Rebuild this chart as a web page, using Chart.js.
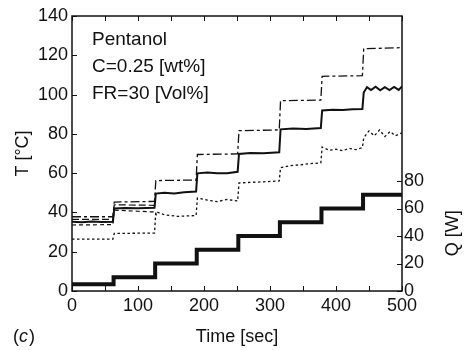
<!DOCTYPE html>
<html>
<head>
<meta charset="utf-8">
<script src="https://cdn.jsdelivr.net/npm/chart.js@4.4.1/dist/chart.umd.min.js"></script>
<style>
  html, body { margin: 0; padding: 0; background: #fff; }
  #chart { display: block; }
</style>
</head>
<body>
<canvas id="chart" width="466" height="350"></canvas>
<script>
// ── Data ──────────────────────────────────────────────
const qTime  = [0, 63, 126, 189, 252, 315, 378, 441, 500];
const qPower = [5, 10, 20, 30, 40, 50, 60, 70, 70];

const solidTime = [0, 15, 30, 45, 62, 64, 80, 100, 125, 127, 140, 155, 170, 188,
  190, 205, 220, 235, 251, 253, 270, 290, 314, 316, 335, 355, 377,
  379, 395, 410, 425, 440, 442, 447, 453, 460, 467, 474, 481, 488, 495, 500];
const solidTemp = [35.3, 35.0, 35.4, 35.1, 35.3, 42.0, 42.2, 42.1, 42.4, 49.6, 50.0, 49.7, 50.3, 50.6,
  59.9, 60.3, 60.0, 59.9, 60.7, 69.8, 70.2, 70.1, 70.6, 82.3, 82.7, 82.5, 83.0,
  91.9, 92.3, 92.1, 92.5, 92.6, 101.0, 103.8, 102.3, 104.0, 102.2, 103.8, 102.3, 103.9, 102.4, 104.2];

const dashDotTime = [0, 62, 64, 125, 127, 188, 190, 251, 253, 314, 316, 377, 379, 440, 442, 500];
const dashDotTemp = [37.8, 37.8, 45.3, 45.6, 56.2, 56.5, 69.5, 69.8, 81.6, 82.0, 96.9, 97.2, 109.3, 109.6, 123.3, 123.9];

const longDashTime = [0, 62, 64, 126];
const longDashTemp = [36.5, 36.5, 43.9, 43.6];

const shortDashTime = [0, 62, 64, 100, 126, 128];
const shortDashTemp = [33.6, 33.8, 41.2, 40.6, 40.2, 38.5];

const dotTime = [0, 62, 64, 125, 127, 140, 160, 188, 190, 205, 220, 235, 251,
  253, 270, 290, 314, 316, 330, 345, 360, 377, 379, 390, 400, 410, 420, 430, 440,
  442, 450, 458, 466, 474, 482, 490, 500];
const dotTemp = [26.4, 26.4, 29.3, 29.5, 40.4, 38.8, 38.0, 38.4, 47.3, 46.3, 45.5, 46.6, 45.8,
  55.0, 55.3, 55.6, 56.0, 62.8, 63.8, 64.2, 64.8, 65.2, 73.3, 71.6, 72.2, 71.4, 72.6, 72.0, 73.0,
  78.0, 81.5, 79.0, 82.0, 78.6, 81.2, 79.0, 80.5];

const xTicks = [0, 100, 200, 300, 400, 500];
const tTicks = [0, 20, 40, 60, 80, 100, 120, 140];
const qTicks = [0, 20, 40, 60, 80];

const pts = (xs, ys) => xs.map((x, i) => ({ x, y: ys[i] }));

const INK = '#111';
const FONT = "'Liberation Sans', Arial, sans-serif";

// frame, inward tick marks and free-standing texts
const framePlugin = {
  id: 'frame',
  afterDatasetsDraw(chart) {
    const { ctx, chartArea: a, scales } = chart;
    ctx.save();
    ctx.strokeStyle = INK;
    ctx.lineWidth = 1.5;
    ctx.strokeRect(a.left, a.top, a.right - a.left, a.bottom - a.top);

    ctx.lineWidth = 1;
    ctx.beginPath();
    scales.x.ticks.forEach(t => {
      const px = Math.round(scales.x.getPixelForValue(t.value)) + 0.5;
      ctx.moveTo(px, a.bottom); ctx.lineTo(px, a.bottom - 5);
      ctx.moveTo(px, a.top); ctx.lineTo(px, a.top + 5);
    });
    scales.y.ticks.forEach(t => {
      const py = Math.round(scales.y.getPixelForValue(t.value)) + 0.5;
      ctx.moveTo(a.left, py); ctx.lineTo(a.left + 5, py);
    });
    scales.y1.ticks.forEach(t => {
      const py = Math.round(scales.y1.getPixelForValue(t.value)) + 0.5;
      ctx.moveTo(a.right, py); ctx.lineTo(a.right - 5, py);
    });
    ctx.stroke();

    ctx.fillStyle = INK;
    ctx.font = '19px ' + FONT;
    ctx.textAlign = 'left';
    ctx.textBaseline = 'alphabetic';
    ctx.fillText('Pentanol', 92, 45);
    ctx.fillText('C=0.25 [wt%]', 92, 72);
    ctx.fillText('FR=30 [Vol%]', 92, 99);

    // (c) panel label
    ctx.font = '18px ' + FONT;
    let x = 13;
    ctx.fillText('(', x, 342); x += ctx.measureText('(').width;
    ctx.font = 'italic 18px ' + FONT;
    ctx.fillText('c', x, 342); x += ctx.measureText('c').width + 1;
    ctx.font = '18px ' + FONT;
    ctx.fillText(')', x, 342);

    // right axis title, centred on the labelled part of the Q scale
    ctx.save();
    ctx.translate(453, scales.y1.getPixelForValue(42));
    ctx.rotate(-Math.PI / 2);
    ctx.textAlign = 'center';
    ctx.textBaseline = 'middle';
    ctx.fillText('Q [W]', 0, 0);
    ctx.restore();
    ctx.restore();
  }
};

const lineSet = (label, data, width, dash, axis) => ({
  label, data,
  borderColor: INK,
  borderWidth: width,
  borderDash: dash,
  pointRadius: 0,
  tension: 0,
  fill: false,
  yAxisID: axis || 'y'
});

const tickFont = { family: FONT, size: 18 };

new Chart(document.getElementById('chart'), {
  type: 'line',
  data: {
    datasets: [
      lineSet('T dotted', pts(dotTime, dotTemp), 1.3, [2.5, 2.5]),
      lineSet('T short dash', pts(shortDashTime, shortDashTemp), 1.2, [4, 3]),
      lineSet('T long dash', pts(longDashTime, longDashTemp), 1.2, [7, 3]),
      lineSet('T dash-dot', pts(dashDotTime, dashDotTemp), 1.3, [9, 3, 3, 3]),
      lineSet('T solid', pts(solidTime, solidTemp), 2, []),
      Object.assign(lineSet('Q', pts(qTime, qPower), 4, [], 'y1'), { stepped: 'before' })
    ]
  },
  options: {
    responsive: false,
    animation: false,
    layout: { padding: { top: 16, left: 0, right: 0, bottom: 0 } },
    plugins: { legend: { display: false }, tooltip: { enabled: false } },
    scales: {
      x: {
        type: 'linear',
        min: 0, max: 500,
        afterFit: s => { s.height = 59; },
        border: { display: false },
        grid: { display: false, drawTicks: false },
        ticks: {
          stepSize: 50,
          autoSkip: false,
          maxRotation: 0,
          padding: 4,
          color: INK,
          font: tickFont,
          callback: v => xTicks.includes(v) ? String(v) : ''
        },
        title: {
          display: true,
          text: 'Time [sec]',
          color: INK,
          font: { family: FONT, size: 18 },
          padding: { top: 0, bottom: 2 }
        }
      },
      y: {
        min: 0, max: 140,
        afterFit: s => { s.width = 72; },
        afterBuildTicks: s => { s.ticks = tTicks.map(v => ({ value: v })); },
        border: { display: false },
        grid: { display: false, drawTicks: false },
        ticks: {
          padding: 4,
          color: INK,
          font: tickFont
        },
        title: {
          display: true,
          text: 'T [°C]',
          color: INK,
          font: { family: FONT, size: 18 },
          padding: { top: 12, bottom: 0 }
        }
      },
      y1: {
        position: 'right',
        min: 0, max: 200,
        afterFit: s => { s.width = 64; },
        afterBuildTicks: s => { s.ticks = qTicks.map(v => ({ value: v })); },
        border: { display: false },
        grid: { display: false, drawTicks: false },
        ticks: {
          padding: 2,
          color: INK,
          font: tickFont
        }
      }
    }
  },
  plugins: [framePlugin]
});
</script>
</body>
</html>
